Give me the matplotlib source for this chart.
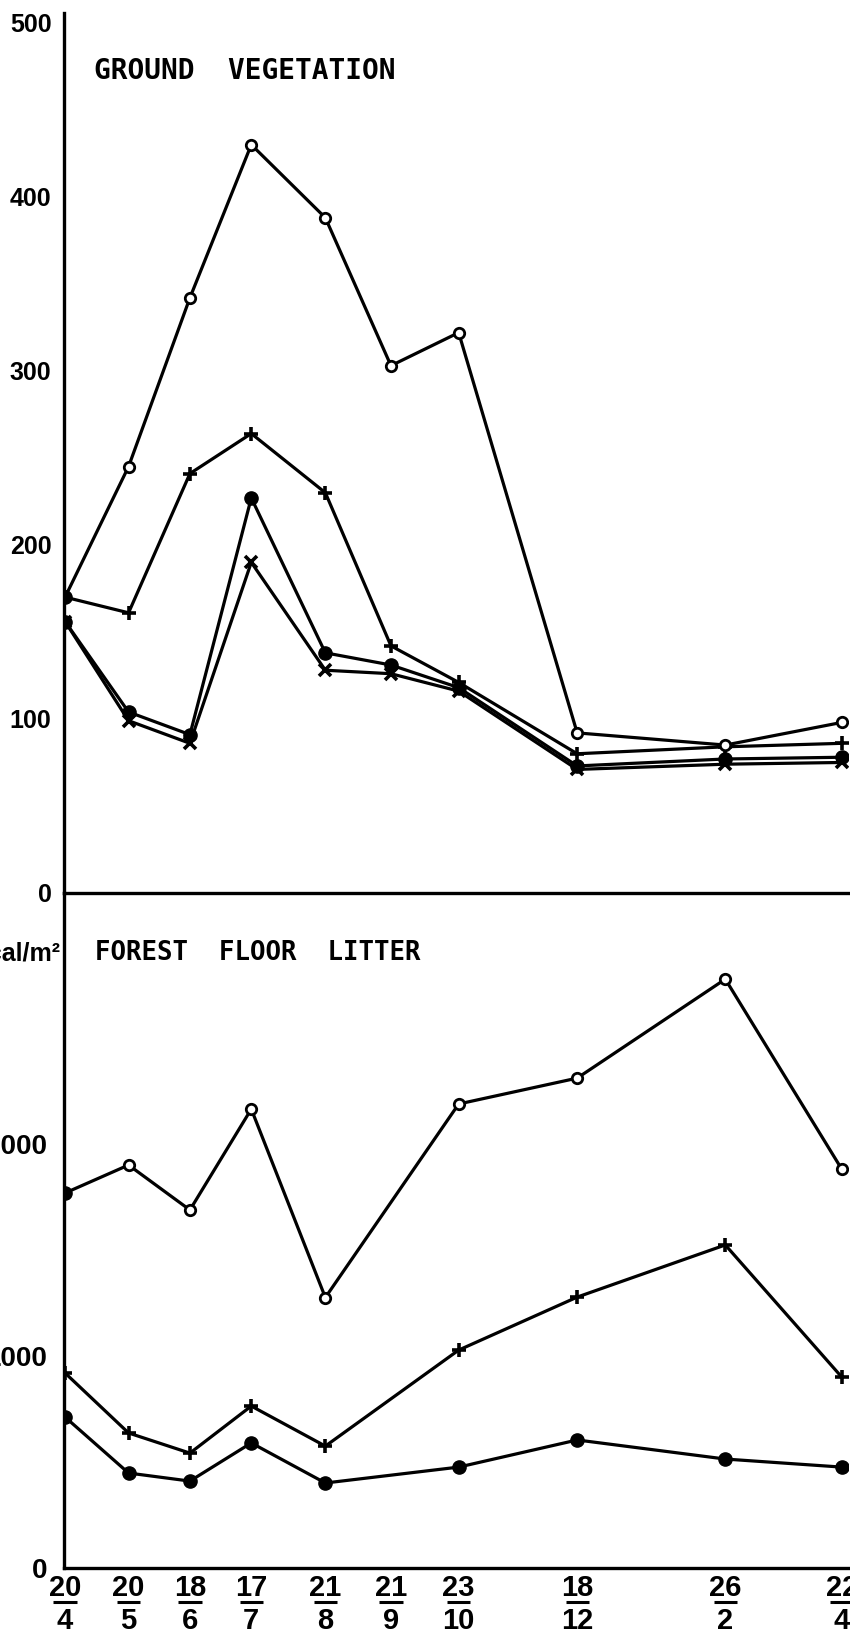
import numpy as np
import matplotlib
matplotlib.use("Agg")
import matplotlib.pyplot as plt
from matplotlib.transforms import blended_transform_factory

# sampling dates: day over month, and days elapsed since the first sampling
day_labels = ["20", "20", "18", "17", "21", "21", "23", "18", "26", "22"]
month_labels = ["4", "5", "6", "7", "8", "9", "10", "12", "2", "4"]
days = [0, 30, 59, 88, 123, 154, 186, 242, 312, 367]

# ground vegetation (kcal/m2), one list per plot symbol
veg_open = [170, 245, 342, 430, 388, 303, 322, 92, 85, 98]
veg_plus = [170, 161, 241, 264, 230, 142, 121, 80, 84, 86]
veg_dot = [156, 104, 91, 227, 138, 131, 118, 73, 77, 78]
veg_cross = [156, 99, 86, 190, 128, 126, 116, 71, 74, 75]

# forest floor litter (kcal/m2); nothing sampled on 21/9
lit_open = [1769, 1901, 1689, 2165, 1276, np.nan, 2189, 2311, 2778, 1882]
lit_plus = [920, 637, 542, 764, 575, np.nan, 1028, 1278, 1524, 901]
lit_dot = [712, 448, 410, 590, 401, np.nan, 476, 604, 514, 476]

veg_ticks = [0, 100, 200, 300, 400, 500]
lit_ticks = [0, 1000, 2000]

NUM_FONT = ["Liberation Sans", "DejaVu Sans"]
NARROW_FONT = ["Liberation Sans Narrow", "Liberation Sans", "DejaVu Sans"]
LETTER_FONT = ["DejaVu Sans Mono", "DejaVu Sans"]

MARKERS = {
    "open": dict(marker="o", ms=7.5, mfc="white", mec="k", mew=2.0),
    "plus": dict(marker="+", ms=10, mec="k", mew=2.6),
    "dot": dict(marker="o", ms=9.5, mfc="k", mec="k", mew=1.0),
    "cross": dict(marker="x", ms=8, mec="k", mew=2.6),
}


def draw_series(ax, y, kind, first_filled=False):
    x = np.asarray(days, float)
    y = np.asarray(y, float)
    ok = np.isfinite(y)
    x, y = x[ok], y[ok]
    ax.plot(x, y, color="k", lw=2.3, zorder=2)
    start = 1 if first_filled else 0
    ax.plot(x[start:], y[start:], ls="none", zorder=3, **MARKERS[kind])
    if first_filled:
        ax.plot(x[:1], y[:1], ls="none", zorder=4, **MARKERS["dot"])


def style_axis(ax, ymax, ticks, size, pad):
    ax.set_xlim(-0.5, 370)
    ax.set_ylim(0, ymax)
    ax.patch.set_visible(False)
    for side in ("top", "right"):
        ax.spines[side].set_visible(False)
    for side in ("left", "bottom"):
        ax.spines[side].set_linewidth(2.4)
    ax.set_yticks(ticks)
    ax.set_yticklabels([str(t) for t in ticks], family=NUM_FONT,
                       fontweight="bold", fontsize=size)
    ax.tick_params(axis="y", length=0, pad=pad)
    ax.tick_params(axis="x", length=0)
    ax.set_xticks([])


fig = plt.figure(figsize=(8.5, 16.37), dpi=100)
ax_lit = fig.add_axes([0.0753, 0.04215, 0.9224, 0.4123])
ax_veg = fig.add_axes([0.0753, 0.4545, 0.9224, 0.5376])

# --- ground vegetation ---
draw_series(ax_veg, veg_cross, "cross")
draw_series(ax_veg, veg_dot, "dot")
draw_series(ax_veg, veg_plus, "plus")
draw_series(ax_veg, veg_open, "open", first_filled=True)
style_axis(ax_veg, 505.7, veg_ticks, 18, 9)
ax_veg.text(0.038, 0.934, "GROUND  VEGETATION", transform=ax_veg.transAxes,
            family=LETTER_FONT, fontweight="bold", fontsize=20, va="center")

# --- forest floor litter ---
draw_series(ax_lit, lit_dot, "dot")
draw_series(ax_lit, lit_plus, "plus")
draw_series(ax_lit, lit_open, "open", first_filled=True)
style_axis(ax_lit, 3184, lit_ticks, 20, 12)
ax_lit.text(0.040, 0.911, "FOREST  FLOOR  LITTER", transform=ax_lit.transAxes,
            family=LETTER_FONT, fontweight="bold", fontsize=18.5, va="center")
ax_lit.text(-0.005, 0.911, "kcal/m²", transform=ax_lit.transAxes,
            family=NARROW_FONT, fontweight="bold", fontsize=18,
            ha="right", va="center")

# date labels: underlined day above month
trans = blended_transform_factory(ax_lit.transData, ax_lit.transAxes)
for d, dd, mm in zip(days, day_labels, month_labels):
    ax_lit.text(d, -0.030, dd, transform=trans, ha="center", va="center",
                family=NARROW_FONT, fontweight="bold", fontsize=21)
    ax_lit.plot([d - 5.5, d + 5.5], [-0.051, -0.051], transform=trans,
                color="k", lw=2.2, clip_on=False, solid_capstyle="butt")
    ax_lit.text(d, -0.078, mm, transform=trans, ha="center", va="center",
                family=NARROW_FONT, fontweight="bold", fontsize=21)

fig.savefig("out.png", dpi=100)
